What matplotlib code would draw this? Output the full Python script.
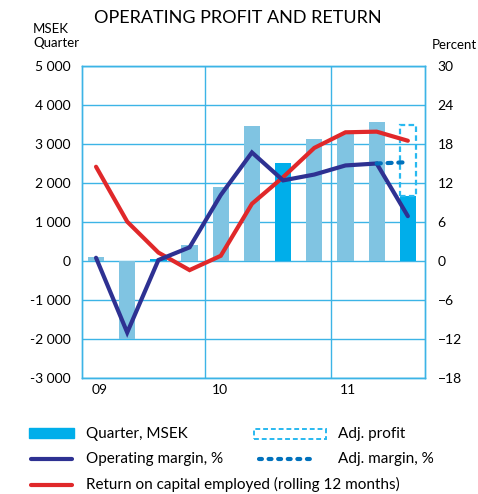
import matplotlib
matplotlib.use("Agg")
import matplotlib.pyplot as plt
from matplotlib.patches import Rectangle
from matplotlib.lines import Line2D

plt.rcParams['font.family'] = ['Lato', 'DejaVu Sans']

quarters = list(range(11))
profit = [100, -2000, 50, 410, 1906, 3460, 2504, 3128, 3250, 3573, 1675]
highlight = [False, False, True, False, False, False, True, False, False, False, True]
adj_profit = 3490
op_margin = [0.5, -11.0, 0.15, 2.1, 10.15, 16.7, 12.4, 13.3, 14.7, 15.0, 6.9]
adj_margin = [15.0, 15.2]
roce = [14.5, 6.05, 1.3, -1.4, 0.8, 8.8, 12.9, 17.4, 19.8, 19.9, 18.5]
year_labels = ['09', '10', '11']
year_pos = [0.1, 3.97, 8.08]
left_ticks = [5000, 4000, 3000, 2000, 1000, 0, -1000, -2000, -3000]
right_ticks = [30, 24, 18, 12, 6, 0, -6, -12, -18]

light = '#80c4e2'
dark = '#00aeea'
navy = '#2e3192'
red = '#e0282a'
adjblue = '#0071bc'
grid = '#3cb4e6'

W, H = 478, 494
fig = plt.figure(figsize=(W / 100, H / 100), dpi=100)
ax = fig.add_axes([82 / W, 1 - 378 / H, (425 - 82) / W, (378 - 66) / H])
ax2 = ax.twinx()

colors = [dark if h else light for h in highlight]
ax.bar(quarters, profit, width=0.52, color=colors, zorder=2)
ax.bar([quarters[-1]], [adj_profit - profit[-1]], bottom=[profit[-1]], width=0.52,
       fill=False, edgecolor='#29b9f0', linestyle=(0, (2.5, 1.5)), linewidth=1.6, zorder=3)

ax.set_ylim(-3000, 5000)
ax.set_xlim(-0.45, 10.55)
ax.set_yticks(left_ticks)
ax.set_yticklabels([f"{v:,}".replace(',', ' ') for v in left_ticks])
ax.set_xticks([])
for v in left_ticks:
    ax.axhline(v, color=grid, lw=1.0, zorder=1)
for xv in [3.5, 7.55]:
    ax.axvline(xv, color=grid, lw=1.0, zorder=1)
for s in ax.spines.values():
    s.set_color(grid)
    s.set_linewidth(1.0)
for s in ax2.spines.values():
    s.set_color(grid)
    s.set_linewidth(1.0)
ax.tick_params(axis='y', length=0, pad=8, labelsize=10)

ax2.set_ylim(-18, 30)
ax2.set_yticks(right_ticks)
ax2.tick_params(axis='y', length=0, pad=9, labelsize=10)
ax2.plot(quarters, roce, color=red, lw=3.0, solid_capstyle='round', solid_joinstyle='miter', zorder=4)
ax2.plot(quarters, op_margin, color=navy, lw=3.0, solid_capstyle='round', solid_joinstyle='miter', zorder=5)
ax2.plot(quarters[-2:], adj_margin, color=adjblue, lw=3.0, linestyle=(0, (1.0, 1.6)),
         dash_capstyle='round', zorder=6)

for lab, xp in zip(year_labels, year_pos):
    ax.text(xp, -3320, lab, ha='center', va='center', fontsize=10)

fig.text(238 / W, 1 - 18 / H, 'OPERATING PROFIT AND RETURN', ha='center', va='center', fontsize=13)
fig.text(33 / W, 1 - 36 / H, 'MSEK\nQuarter', ha='left', va='center', fontsize=9.5, linespacing=1.2)
fig.text(432 / W, 1 - 45 / H, 'Percent', ha='left', va='center', fontsize=9.5)

def fx(x):
    return x / W

def fy(y):
    return 1 - y / H

# legend
fig.add_artist(Rectangle((fx(29), fy(438)), fx(74) - fx(29), fy(428) - fy(438),
                         transform=fig.transFigure, color=dark))
fig.add_artist(Line2D([fx(31), fx(72)], [fy(459), fy(459)], transform=fig.transFigure,
                      color=navy, lw=3.0, solid_capstyle='round'))
fig.add_artist(Line2D([fx(31), fx(72)], [fy(485), fy(485)], transform=fig.transFigure,
                      color=red, lw=3.0, solid_capstyle='round'))
fig.add_artist(Rectangle((fx(254), fy(439)), fx(326) - fx(254), fy(429) - fy(439),
                         transform=fig.transFigure, fill=False, edgecolor='#29b9f0',
                         linestyle=(0, (2.5, 1.5)), lw=1.4))
fig.add_artist(Line2D([fx(259), fx(312)], [fy(459), fy(459)], transform=fig.transFigure,
                      color=adjblue, lw=3.0, linestyle=(0, (0.7, 1.6)), dash_capstyle='round'))
fs = 11
fig.text(fx(86), fy(434), 'Quarter, MSEK', ha='left', va='center', fontsize=fs)
fig.text(fx(86), fy(459), 'Operating margin, %', ha='left', va='center', fontsize=fs)
fig.text(fx(86), fy(484), 'Return on capital employed (rolling 12 months)', ha='left', va='center', fontsize=fs)
fig.text(fx(338), fy(434), 'Adj. profit', ha='left', va='center', fontsize=fs)
fig.text(fx(338), fy(459), 'Adj. margin, %', ha='left', va='center', fontsize=fs)

fig.savefig('out.png', dpi=100)
